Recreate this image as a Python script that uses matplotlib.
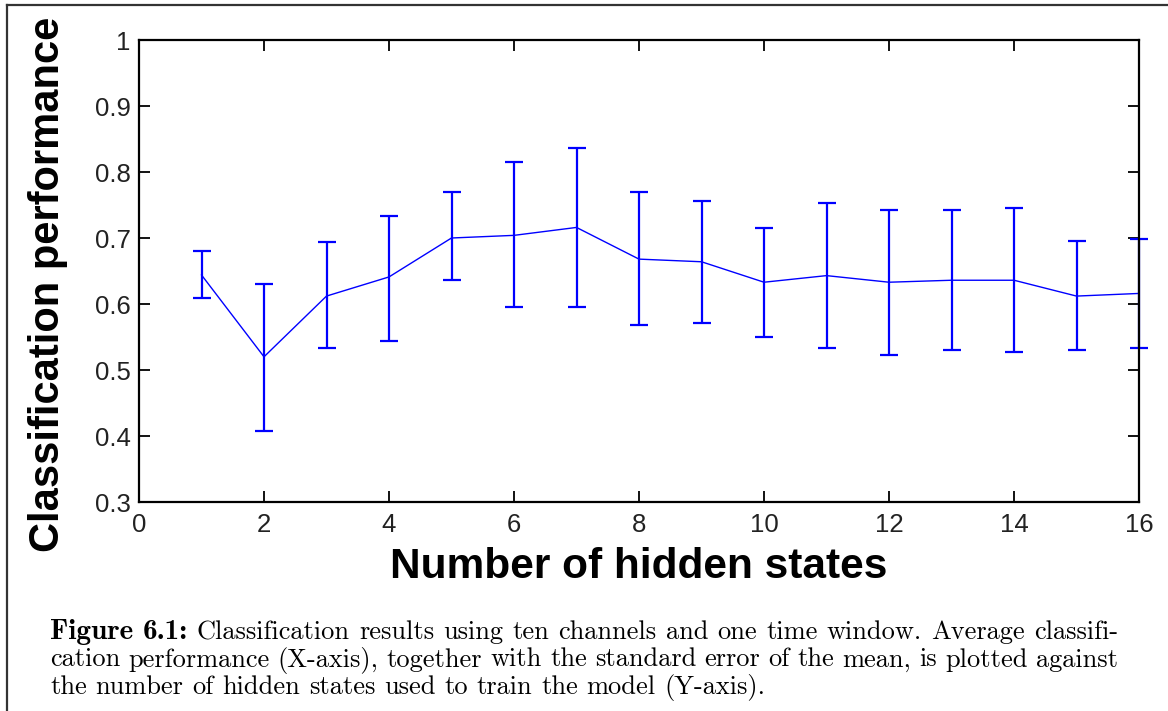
import matplotlib
matplotlib.use("Agg")
import matplotlib.pyplot as plt
from matplotlib.lines import Line2D

# mean classification performance per number of hidden states
n_states = [1, 2, 3, 4, 5, 6, 7, 8, 9, 10, 11, 12, 13, 14, 15, 16]
perf = [0.644, 0.520, 0.612, 0.641, 0.700, 0.704, 0.716, 0.668,
        0.664, 0.633, 0.643, 0.633, 0.636, 0.636, 0.612, 0.616]
# lower / upper ends of the standard error bars
err_lo = [0.609, 0.407, 0.534, 0.544, 0.636, 0.595, 0.595, 0.568,
          0.571, 0.550, 0.533, 0.523, 0.530, 0.527, 0.530, 0.533]
err_hi = [0.681, 0.630, 0.694, 0.733, 0.769, 0.815, 0.836, 0.770,
          0.756, 0.715, 0.753, 0.742, 0.742, 0.746, 0.695, 0.699]

xticks = [0, 2, 4, 6, 8, 10, 12, 14, 16]
yticks = [0.3, 0.4, 0.5, 0.6, 0.7, 0.8, 0.9, 1.0]
ytick_labels = ["0.3", "0.4", "0.5", "0.6", "0.7", "0.8", "0.9", "1"]

caption_head = "Figure 6.1:"
caption = [
    "Classification results using ten channels and one time window. Average classifi-",
    "cation performance (X-axis), together with the standard error of the mean, is plotted against",
    "the number of hidden states used to train the model (Y-axis).",
]

W, H = 1168, 711
fig = plt.figure(figsize=(W / 100, H / 100), dpi=100)
ax = fig.add_axes([139 / W, 1 - 502 / H, 1000 / W, 462 / H])

lower = [p - lo for p, lo in zip(perf, err_lo)]
upper = [hi - p for p, hi in zip(perf, err_hi)]
ax.plot(n_states, perf, color="#0000ff", lw=1.0)
ax.errorbar(n_states, perf, yerr=[lower, upper], fmt="none",
            ecolor="#0000ff", elinewidth=1.6, capsize=6.5, capthick=1.6,
            clip_on=False)

ax.set_xlim(0, 16)
ax.set_ylim(0.3, 1.0)
ax.set_xticks(xticks)
ax.set_xticklabels([str(t) for t in xticks])
ax.set_yticks(yticks)
ax.set_yticklabels(ytick_labels)
ax.tick_params(direction="in", length=8, width=1.3, top=True, right=True,
               labelsize=18.5, colors="black")
ax.tick_params(axis="x", pad=8)
ax.tick_params(axis="y", pad=6)
for lab in ax.get_xticklabels() + ax.get_yticklabels():
    lab.set_fontfamily("Liberation Sans")
    lab.set_color("#222222")
for sp in ax.spines.values():
    sp.set_linewidth(1.6)

ax.set_xlabel("Number of hidden states", fontsize=30.5, fontweight="bold",
              family="Liberation Sans", va="baseline")
ax.xaxis.set_label_coords(0.5, (502 - 578) / 462)
ax.set_ylabel("Classification performance", fontsize=30, fontweight="bold",
              family="Liberation Sans", va="center")
ax.yaxis.set_label_coords((48 - 139) / 1000, 0.47)

# page frame around the figure
fig.add_artist(Line2D([7 / W, 7 / W], [0, 1 - 5 / H], color="#333333", lw=1.6))
fig.add_artist(Line2D([7 / W, 1], [1 - 5 / H, 1 - 5 / H], color="#333333", lw=1.6))

# caption, first two lines justified between left and right margins
renderer = fig.canvas.get_renderer()
left, right = 50, 1118
fs = 19
baselines = [639, 666.5, 694]


def place_words(words, ybase, justify):
    arts = [fig.text(0, 1 - ybase / H, w, family=f, fontsize=s, va="baseline")
            for w, f, s in words]
    widths = [a.get_window_extent(renderer).width for a in arts]
    if justify:
        gap = (right - left - sum(widths)) / (len(arts) - 1)
    else:
        gap = fs * 100 / 72 * 0.333
    x = left
    for a, w in zip(arts, widths):
        a.set_x(x / W)
        x += w + gap


def regular(line):
    return [(w, "cmr10", fs) for w in line.split()]


head = [(w, "cmb10", fs + 2) for w in caption_head.split()]
place_words(head + regular(caption[0]), baselines[0], True)
place_words(regular(caption[1]), baselines[1], True)
place_words(regular(caption[2]), baselines[2], False)

fig.savefig("out.png", dpi=100)
